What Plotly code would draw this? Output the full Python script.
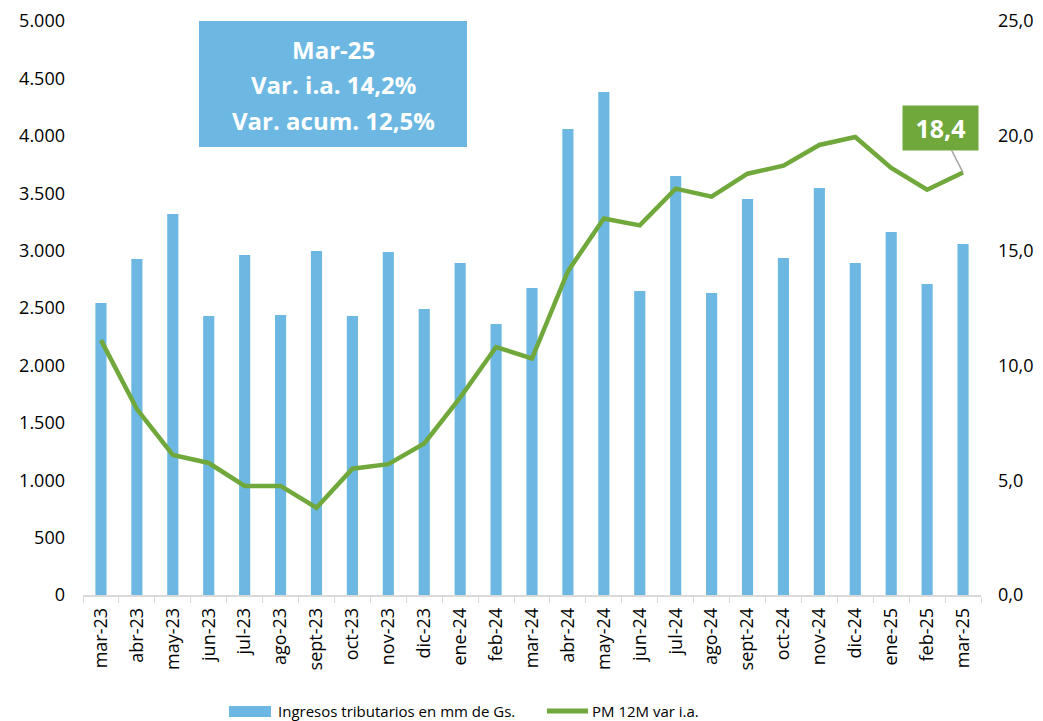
import plotly.graph_objects as go

months = ["mar-23","abr-23","may-23","jun-23","jul-23","ago-23","sept-23","oct-23","nov-23","dic-23",
          "ene-24","feb-24","mar-24","abr-24","may-24","jun-24","jul-24","ago-24","sept-24","oct-24",
          "nov-24","dic-24","ene-25","feb-25","mar-25"]
ingresos = [2544, 2927, 3319, 2430, 2962, 2439, 2997, 2430, 2988, 2491,
            2892, 2361, 2674, 4059, 4382, 2648, 3650, 2631, 3450, 2936,
            3545, 2892, 3162, 2709, 3057]
pm12 = [11.1, 8.1, 6.1, 5.75, 4.75, 4.75, 3.8, 5.5, 5.7, 6.6,
        8.6, 10.8, 10.3, 14.1, 16.4, 16.1, 17.7, 17.35, 18.35, 18.7,
        19.6, 19.95, 18.6, 17.65, 18.4]
left_ticks = [0, 500, 1000, 1500, 2000, 2500, 3000, 3500, 4000, 4500, 5000]
left_labels = ["0", "500", "1.000", "1.500", "2.000", "2.500", "3.000", "3.500", "4.000", "4.500", "5.000"]
right_ticks = [0, 5, 10, 15, 20, 25]
right_labels = ["0,0", "5,0", "10,0", "15,0", "20,0", "25,0"]
box_lines = ["Mar-25", "Var. i.a. 14,2%", "Var. acum. 12,5%"]
legend_names = ["Ingresos tributarios en mm de Gs.", "PM 12M var i.a."]

FONT = "Open Sans"
BLUE = "#6CB8E2"
GREEN = "#70A83C"

# the page body has an 8px default margin, so the figure is 8px smaller
OFF = 8
W, H = 1043 - OFF, 721 - OFF
L, R, T, B = 83 - OFF, 62, 21 - OFF, 126
PW, PH = W - L - R, H - T - B


def px(x):
    return (x - OFF - L) / PW


def py(y):
    return (H - B - (y - OFF)) / PH


fig = go.Figure()
fig.add_trace(go.Bar(x=months, y=ingresos, name=legend_names[0],
                     marker=dict(color=BLUE, line=dict(width=0)), yaxis="y"))
fig.add_trace(go.Scatter(x=months, y=pm12, name=legend_names[1], mode="lines",
                         line=dict(color=GREEN, width=4.5), yaxis="y2"))

fig.update_layout(
    width=W, height=H,
    margin=dict(l=L, r=R, t=T, b=B, autoexpand=False),
    paper_bgcolor="white", plot_bgcolor="white",
    font=dict(family=FONT, size=18, color="black"),
    bargap=0.69,
    showlegend=False,
    xaxis=dict(type="category", tickangle=-90, showgrid=False, showline=True,
               linecolor="#D9D9D9", linewidth=1.5, ticks="outside", tickcolor="#D9D9D9",
               ticklen=6, tickson="boundaries", tickfont=dict(size=18, family=FONT),
               ticklabelstandoff=4, automargin=False,
               range=[-0.5, len(months) - 0.5]),
    yaxis=dict(range=[0, 5000], tickvals=left_ticks, ticktext=left_labels, showgrid=False,
               zeroline=False, showline=False, tickfont=dict(size=18, family=FONT),
               ticklabelstandoff=17, automargin=False),
    yaxis2=dict(range=[0, 25], tickvals=right_ticks, ticktext=right_labels, overlaying="y",
                side="right", showgrid=False, zeroline=False, showline=False,
                tickfont=dict(size=18, family=FONT), ticklabelstandoff=16, automargin=False),
)

# info box
fig.add_shape(type="rect", xref="paper", yref="paper",
              x0=px(199), x1=px(467), y0=py(147), y1=py(21),
              fillcolor=BLUE, line=dict(width=0), layer="above")
for txt, yc in zip(box_lines, [49, 85, 120]):
    fig.add_annotation(xref="paper", yref="paper", x=px(333), y=py(yc),
                       xanchor="center", yanchor="middle", showarrow=False,
                       text="<b>" + txt + "</b>",
                       font=dict(color="white", size=24, family=FONT))

# last value label
fig.add_annotation(
    x=months[-1], y=pm12[-1], xref="x", yref="y2",
    text="<b>18,4</b>", showarrow=True, arrowhead=0, arrowcolor="#A6A6A6", arrowwidth=1.5,
    ax=-23, ay=-45, bgcolor=GREEN, font=dict(color="white", size=25, family=FONT),
    width=67, height=36, borderpad=4,
)

# legend (drawn manually to match reference swatches)
fig.add_shape(type="rect", xref="paper", yref="paper",
              x0=px(229), x1=px(271), y0=py(717), y1=py(706),
              fillcolor=BLUE, line=dict(width=0))
fig.add_annotation(xref="paper", yref="paper", x=px(276), y=py(711),
                   xanchor="left", yanchor="middle", showarrow=False,
                   text=legend_names[0], font=dict(size=15, family=FONT, color="black"))
fig.add_shape(type="line", xref="paper", yref="paper",
              x0=px(547), x1=px(588), y0=py(711), y1=py(711),
              line=dict(color=GREEN, width=5))
fig.add_annotation(xref="paper", yref="paper", x=px(590), y=py(711),
                   xanchor="left", yanchor="middle", showarrow=False,
                   text=legend_names[1], font=dict(size=15, family=FONT, color="black"))

fig.write_html("out.html")
